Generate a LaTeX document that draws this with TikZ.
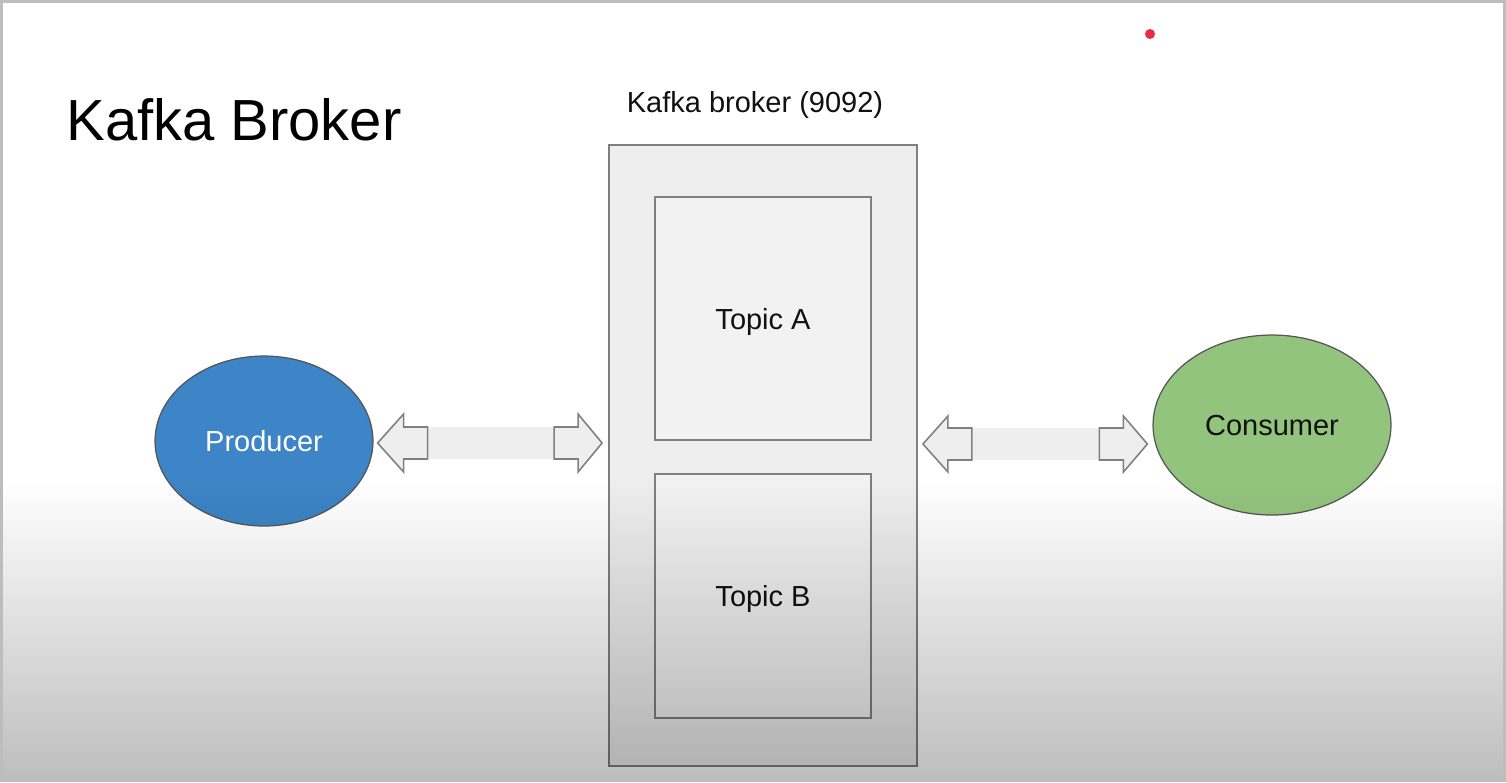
\documentclass[tikz,border=0pt]{standalone}
\usepackage{fontspec}
\setmainfont{Liberation Sans}
\usetikzlibrary{shapes.geometric,fadings,calc}
\definecolor{prodblue}{HTML}{3D85C6}
\definecolor{consgreen}{HTML}{93C47D}
\definecolor{boxfill}{HTML}{EEEEEE}
\definecolor{topicfill}{HTML}{F2F2F2}
\definecolor{boxline}{HTML}{808080}
\definecolor{ellline}{HTML}{555555}
\definecolor{framegray}{HTML}{BDBDBD}
\definecolor{dotred}{HTML}{EC2A48}
\definecolor{txt}{HTML}{111111}
\tikzfading[name=bottomshade, top color=transparent!100, bottom color=transparent!74]
\begin{document}
\begin{tikzpicture}[x=0.02cm,y=-0.02cm,
  bodytext/.style={font=\fontsize{16.5pt}{19pt}\selectfont, text=txt, text depth=0pt},
  brokerbox/.style={draw=boxline, line width=1.1pt, fill=boxfill, inner sep=0pt},
  topicbox/.style={draw=boxline, line width=1.1pt, fill=topicfill, inner sep=0pt, bodytext},
  bubble/.style={ellipse, draw=ellline, line width=0.7pt, inner sep=0pt, bodytext},
  headpart/.style={draw=boxline, line width=0.9pt, fill=boxfill, line join=miter},
  shaftpart/.style={fill=boxfill}
]
\useasboundingbox (0,0) rectangle (1506,782);
\fill[white] (0,0) rectangle (1506,782);

% title and broker label
\node[anchor=base west, inner sep=0pt, text=black, font=\fontsize{33pt}{38pt}\selectfont] (title) at (66,140) {Kafka Broker};
\node[anchor=base, inner sep=0pt, bodytext] (brokerlabel) at (755,112) {Kafka broker (9092)};

% broker and topics
\node[brokerbox, minimum width=6.16cm, minimum height=12.42cm] (broker) at (763,455.5) {};
\node[topicbox, minimum width=4.32cm, minimum height=4.86cm] (topicA) at (763,318.5) {Topic A};
\node[topicbox, minimum width=4.32cm, minimum height=4.88cm] (topicB) at (763,596) {Topic B};

% producer and consumer
\node[bubble, fill=prodblue, text=white, minimum width=4.36cm, minimum height=3.4cm] (prod) at (264,441) {Producer};
\node[bubble, fill=consgreen, minimum width=4.76cm, minimum height=3.6cm] (cons) at (1272,425) {Consumer};

% left double arrow (producer <-> broker)
\coordinate (la) at ($(prod.east |- 0,443)+(4,0)$);
\coordinate (lb) at ($(broker.west |- 0,443)+(-6,0)$);
\fill[shaftpart] ($(la)+(49,-16)$) rectangle ($(lb)+(-48,16)$);
\draw[headpart] (la) -- ++(26,-29) -- ++(0,13) -- ++(24,0) -- ++(0,32) -- ++(-24,0) -- ++(0,13) -- cycle;
\draw[headpart] (lb) -- ++(-24,-29) -- ++(0,13) -- ++(-24,0) -- ++(0,32) -- ++(24,0) -- ++(0,13) -- cycle;

% right double arrow (broker <-> consumer)
\coordinate (ra) at ($(broker.east |- 0,444)+(5,0)$);
\coordinate (rb) at ($(cons.west |- 0,444)+(-5,0)$);
\fill[shaftpart] ($(ra)+(49,-16)$) rectangle ($(rb)+(-48,16)$);
\draw[headpart] (ra) -- ++(25,-28) -- ++(0,12) -- ++(24,0) -- ++(0,32) -- ++(-24,0) -- ++(0,12) -- cycle;
\draw[headpart] (rb) -- ++(-24,-28) -- ++(0,12) -- ++(-24,0) -- ++(0,32) -- ++(24,0) -- ++(0,12) -- cycle;

% pointer dot
\fill[dotred] (1150,34) circle (5);

% bottom darkening
\fill[black, path fading=bottomshade] (0,480) rectangle (1506,782);

% frame
\draw[framegray, line width=1.5pt] (1.3,1.3) rectangle (1504.7,780.7);
\end{tikzpicture}
\end{document}
